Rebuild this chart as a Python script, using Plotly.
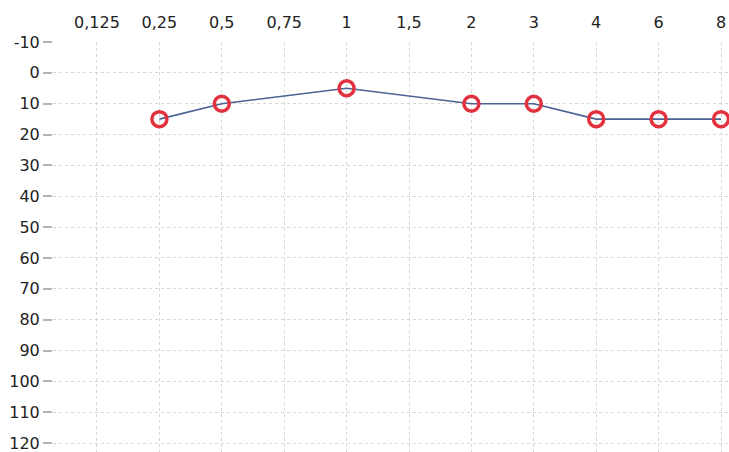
import plotly.graph_objects as go

freq_labels = ["0,125", "0,25", "0,5", "0,75", "1", "1,5", "2", "3", "4", "6", "8"]
point_freqs = ["0,25", "0,5", "1", "2", "3", "4", "6", "8"]
point_levels = [15, 10, 5, 10, 10, 15, 15, 15]
y_ticks = list(range(-10, 121, 10))

idx = {f: i for i, f in enumerate(freq_labels)}
xs = [idx[f] for f in point_freqs]

fig = go.Figure()
fig.add_trace(go.Scatter(
    x=xs, y=point_levels, mode="lines+markers",
    line=dict(color="#4a6294", width=1.6),
    marker=dict(symbol="circle-open", size=15, color="#e2323f", line=dict(width=3.5, color="#e2323f")),
    cliponaxis=False, showlegend=False,
))

fig.update_layout(
    width=729, height=452,
    margin=dict(l=53, r=0, t=42, b=0),
    paper_bgcolor="white", plot_bgcolor="white",
    font=dict(family="DejaVu Sans, sans-serif", size=16, color="#222"),
    xaxis=dict(
        side="top", range=[-0.705, 10.128], automargin=False,
        tickmode="array", tickvals=list(range(len(freq_labels))), ticktext=freq_labels,
        showgrid=True, gridcolor="#d6d6d6", griddash="dot", gridwidth=1,
        zeroline=False, showline=False, ticks="", ticklabelstandoff=10,
        ticklabeloverflow="allow",
        tickfont=dict(size=16, color="#222"),
    ),
    yaxis=dict(
        range=[122.9, -10], automargin=False, tickmode="array", tickvals=y_ticks,
        ticktext=[str(v) for v in y_ticks],
        showgrid=True, gridcolor="#d6d6d6", griddash="dot", gridwidth=1,
        zeroline=False, showline=False, ticks="outside", ticklen=9, tickcolor="#b4b4b4",
        tickwidth=2, ticklabelstandoff=0, ticklabeloverflow="allow",
        tickfont=dict(size=16, color="#222"),
    ),
)

fig.write_html("out.html", config={"displayModeBar": False},
               post_script="document.body.style.margin='0';document.body.style.overflow='hidden';")
